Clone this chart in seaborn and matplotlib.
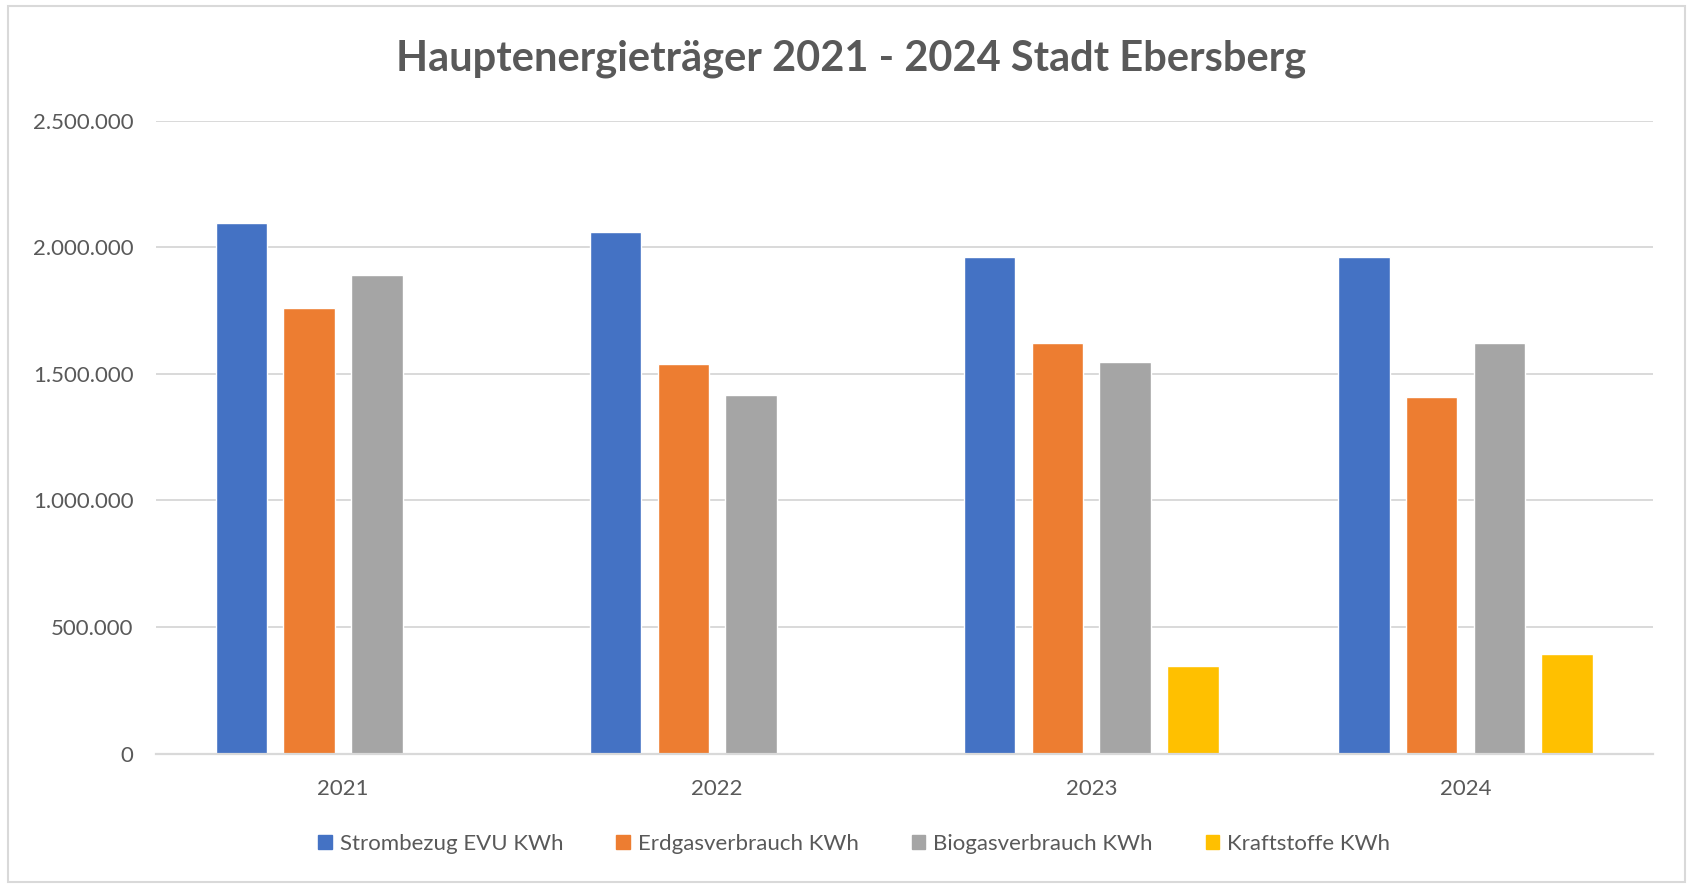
import numpy as np
import pandas as pd
import matplotlib
matplotlib.use("Agg")
import matplotlib.pyplot as plt
from matplotlib.ticker import FuncFormatter
from matplotlib.patches import Rectangle
import seaborn as sns

# Werte (kWh)
years = ["2021", "2022", "2023", "2024"]
strom = [2097000, 2059000, 1960000, 1960000]
erdgas = [1759000, 1539000, 1621000, 1407000]
biogas = [1890000, 1416000, 1548000, 1621000]
kraftstoffe = [np.nan, np.nan, 345000, 395000]

series_names = ["Strombezug EVU KWh", "Erdgasverbrauch KWh",
                "Biogasverbrauch KWh", "Kraftstoffe KWh"]
colors = ["#4472C4", "#ED7D31", "#A5A5A5", "#FFC000"]

rows = []
for name, vals in zip(series_names, [strom, erdgas, biogas, kraftstoffe]):
    for y, v in zip(years, vals):
        rows.append({"Jahr": y, "Energieträger": name, "kWh": v})
df = pd.DataFrame(rows).dropna()

sns.set_theme(style="white")
plt.rcParams['font.family'] = ['Lato', 'DejaVu Sans']
text_color = "#595959"
grid_color = "#D9D9D9"

fig = plt.figure(figsize=(16.88, 8.84), dpi=100)
ax = fig.add_axes([0.0924, 0.1475, 0.8866, 0.7161])

sns.barplot(data=df, x="Jahr", y="kWh", hue="Energieträger",
            order=years, hue_order=series_names, palette=colors,
            width=0.725, gap=0.24, errorbar=None, saturation=1,
            legend=False, ax=ax)

ax.set_xlim(-0.5, 3.5)
ax.set_ylim(0, 2500000)
ax.set_yticks(np.arange(0, 2500001, 500000))
ax.yaxis.set_major_formatter(FuncFormatter(lambda v, p: f"{int(v):,}".replace(",", ".")))
ax.grid(axis="y", color=grid_color, linewidth=1.4)
ax.set_axisbelow(True)
for s in ["top", "right", "left"]:
    ax.spines[s].set_visible(False)
ax.spines["bottom"].set_color(grid_color)
ax.spines["bottom"].set_linewidth(1.6)
ax.tick_params(axis="y", length=0, pad=16, labelsize=16, labelcolor=text_color)
ax.tick_params(axis="x", length=0, pad=18, labelsize=16, labelcolor=text_color)
ax.set_xlabel("")
ax.set_ylabel("")

fig.text(0.504, 0.934, "Hauptenergieträger 2021 - 2024 Stadt Ebersberg",
         ha="center", va="center", fontsize=30, fontweight="bold", color=text_color)

handles = [Rectangle((0, 0), 1, 1, color=c) for c in colors]
fig.legend(handles, series_names, loc="center", bbox_to_anchor=(0.506, 0.045),
           ncol=4, frameon=False, fontsize=16, labelcolor=text_color,
           handlelength=0.6, handleheight=0.6, handletextpad=0.35,
           columnspacing=2.4)

fig.patches.append(Rectangle((0.005, 0.002), 0.993, 0.991, transform=fig.transFigure,
                             fill=False, edgecolor=grid_color, linewidth=1.5))

fig.savefig("out.png", dpi=100)
